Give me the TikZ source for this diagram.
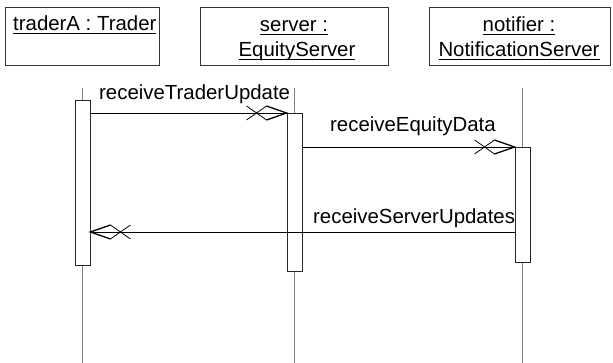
\documentclass[tikz,border=0pt]{standalone}
\usepackage{fontspec}
\setmainfont{Liberation Sans}
\usetikzlibrary{calc}

% underlined object name, rule a little below the baseline
\newcommand\ulbox[1]{\setbox0\hbox{#1}\rlap{\rule[-3pt]{\wd0}{1.1pt}}\box0}

% open arrowhead with a cross behind it; #1 = tip coordinate name, #2 = +1 (pointing right) or -1 (pointing left)
\newcommand\msghead[2]{%
  \draw[msg,line width=1.3pt] ([shift={(-20*#2,-7)}]#1) -- (#1) -- ([shift={(-20*#2,7)}]#1);
  \draw[msg] ([shift={(-20*#2,-7)}]#1) -- ([shift={(-40*#2,7)}]#1);
  \draw[msg] ([shift={(-20*#2,7)}]#1) -- ([shift={(-40*#2,-7)}]#1);}

\begin{document}
\begin{tikzpicture}[x=1pt,y=-1pt,
  objbox/.style={draw=black!80,line width=0.9pt,minimum width=#1,minimum height=58pt,inner sep=0pt,anchor=north west},
  txt/.style={inner sep=0pt,font=\fontsize{20.4pt}{25pt}\selectfont},
  bar/.style={draw=black!85,fill=white,line width=0.9pt,minimum width=15pt,minimum height=#1,inner sep=0pt,anchor=north},
  life/.style={draw=black!50,line width=0.7pt},
  msg/.style={draw=black,line width=0.8pt}]
\useasboundingbox (0,0) rectangle (613,363);

% object boxes
\node[objbox=154pt] (trader) at (5,7) {};
\node[objbox=188pt] (server) at (200,7) {};
\node[objbox=181pt] (notifier) at (429,7) {};

\node[txt,anchor=base west] (tname) at (13,31) {\ulbox{traderA : Trader}};
\node[txt,anchor=base] (sname1) at (294,32) {\ulbox{server :}};
\node[txt,anchor=base] (sname2) at (297,57) {\ulbox{EquityServer}};
\node[txt,anchor=base] (nname1) at (519,32) {\ulbox{notifier :}};
\node[txt,anchor=base] (nname2) at (519,57) {\ulbox{NotificationServer}};

% lifelines
\coordinate (tlt) at (82.5,88);  \coordinate (tlb) at (82.5,363);
\coordinate (slt) at (294.5,88); \coordinate (slb) at (294.5,363);
\coordinate (nlt) at (522.5,88); \coordinate (nlb) at (522.5,363);
\draw[life] (tlt) -- (tlb);
\draw[life] (slt) -- (slb);
\draw[life] (nlt) -- (nlb);

% activation bars
\node[bar=165pt] (tbar) at (82.5,100) {};
\node[bar=158pt] (sbar) at (294.5,113) {};
\node[bar=115pt] (nbar) at (522.5,147) {};

% message end points
\coordinate (m3) at (0,232);
\coordinate (s1) at (tbar.east |- sbar.north);
\coordinate (e1) at (sbar.north west);
\coordinate (s2) at (sbar.east |- nbar.north);
\coordinate (e2) at (nbar.north west);
\coordinate (s3) at (nbar.west |- m3);
\coordinate (e3) at (tbar.east |- m3);

% messages
\draw[msg] (s1) -- (e1);
\msghead{e1}{1}
\node[txt,anchor=base west] (l1) at (99,100) {receiveTraderUpdate};

\draw[msg] (s2) -- (e2);
\msghead{e2}{1}
\node[txt,anchor=base west] (l2) at (330,132) {receiveEquityData};

\draw[msg] (s3) -- (e3);
\msghead{e3}{-1}
\node[txt,anchor=base west] (l3) at (313,224) {receiveServerUpdates};
\end{tikzpicture}
\end{document}
